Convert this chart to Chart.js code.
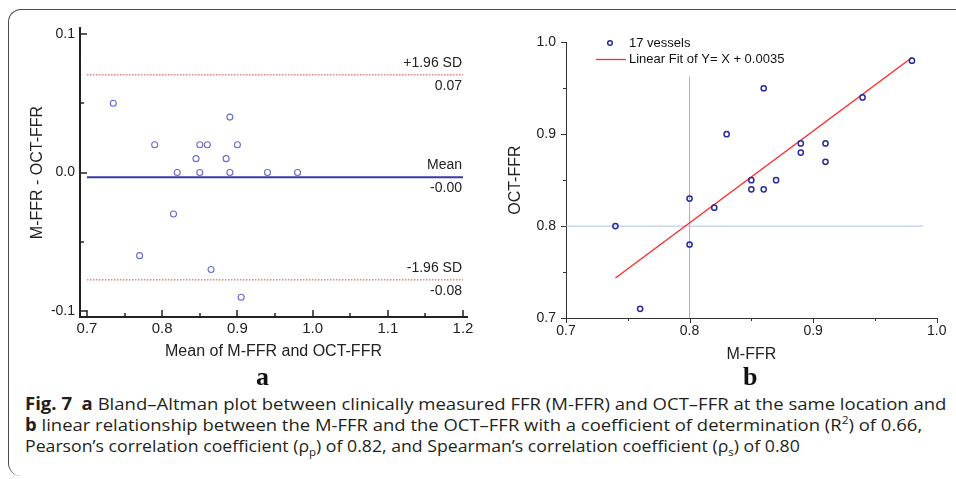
<!DOCTYPE html>
<html><head><meta charset="utf-8">
<script src="https://cdn.jsdelivr.net/npm/chart.js@4.4.1/dist/chart.umd.min.js"></script>
<style>
html,body{margin:0;padding:0;background:#fff;width:956px;height:479px;overflow:hidden;}
#frame{position:absolute;left:8px;top:9px;width:1000px;height:467px;border-top:1.5px solid #4a4a4a;border-left:1.5px solid #4a4a4a;border-radius:13px 0 0 13px;box-sizing:border-box;}
canvas{position:absolute;top:0;}
#cA{left:0}
#cB{left:480px}
.lab{position:absolute;font-family:"Liberation Serif","DejaVu Serif",serif;font-weight:bold;font-size:26px;line-height:26px;color:#111;}
.cap{position:absolute;left:25px;font-family:"Open Sans","Noto Sans",sans-serif;font-size:17px;line-height:20px;color:#231f20;white-space:nowrap;transform-origin:0 0;}
.cap b{font-weight:bold;}
.cap sub,.cap sup{font-size:11px;line-height:0;}
</style>
</head><body>
<div id="frame"></div>
<canvas id="cA" width="480" height="370"></canvas>
<canvas id="cB" width="476" height="370"></canvas>
<div class="lab" id="la" style="left:256px;top:364px">a</div>
<div class="lab" id="lb" style="left:743px;top:364px">b</div>
<div class="cap" data-w="922" style="top:394px"><b>Fig. 7</b>&nbsp; <b>a</b> Bland–Altman plot between clinically measured FFR (M-FFR) and OCT–FFR at the same location and</div>
<div class="cap" data-w="897" style="top:415px"><b>b</b> linear relationship between the M-FFR and the OCT–FFR with a coefficient of determination (R<sup>2</sup>) of 0.66,</div>
<div class="cap" data-w="775" style="top:436px">Pearson’s correlation coefficient (ρ<sub>p</sub>) of 0.82, and Spearman’s correlation coefficient (ρ<sub>s</sub>) of 0.80</div>
<script>
// ---------- Data ----------
// Panel a: Bland–Altman
const baMean = [0.770, 0.735, 0.815, 0.790, 0.820, 0.865, 0.850, 0.845, 0.850, 0.905, 0.860, 0.890, 0.885, 0.900, 0.890, 0.940, 0.980];
const baDiff = [-0.06, 0.05, -0.03, 0.02, 0.00, -0.07, 0.00, 0.01, 0.02, -0.09, 0.02, 0.00, 0.01, 0.02, 0.04, 0.00, 0.00];
const baLimitX = [0.7, 1.2];
const baLines = [0.0705, -0.0035, -0.0775];
const baLineNames = ['+1.96 SD', 'Mean', '-1.96 SD'];
const baLineValues = ['0.07', '-0.00', '-0.08'];
const aXTicks = [0.7, 0.8, 0.9, 1.0, 1.1, 1.2];
const aYTicks = [-0.1, 0.0, 0.1];
const aXTitle = 'Mean of M-FFR and OCT-FFR';
const aYTitle = 'M-FFR - OCT-FFR';

// Panel b: correlation
const mFFR   = [0.74, 0.76, 0.80, 0.80, 0.82, 0.83, 0.85, 0.85, 0.86, 0.86, 0.87, 0.89, 0.89, 0.91, 0.91, 0.94, 0.98];
const octFFR = [0.80, 0.71, 0.83, 0.78, 0.82, 0.90, 0.85, 0.84, 0.84, 0.95, 0.85, 0.89, 0.88, 0.89, 0.87, 0.94, 0.98];
const fitX = [0.74, 0.98];
const fitY = [0.7435, 0.9835];
const refVX = [0.8, 0.8],   refVY = [0.7, 0.963];
const refHX = [0.7, 0.989], refHY = [0.8, 0.8];
const bXTicks = [0.7, 0.8, 0.9, 1.0];
const bYTicks = [0.7, 0.8, 0.9, 1.0];
const bXTitle = 'M-FFR';
const bYTitle = 'OCT-FFR';
const legendLabels = ['17 vessels', 'Linear Fit of Y= X + 0.0035'];

// ---------- Helpers ----------
Chart.defaults.font.family = '"Liberation Sans", Arial, sans-serif';
Chart.defaults.color = '#222';
const pts = (xs, ys) => xs.map((x, i) => ({x, y: ys[i]}));
const mids = arr => arr.slice(1).map((v, i) => (v + arr[i]) / 2);

function tickMarkPlugin(cfg) {
  return {
    id: 'tickMarks',
    afterDraw(chart) {
      const ctx = chart.ctx, ca = chart.chartArea, sx = chart.scales.x, sy = chart.scales.y;
      ctx.save();
      ctx.strokeStyle = cfg.color; ctx.lineWidth = cfg.width;
      const d = cfg.inside ? 1 : -1;
      const ln = (x1, y1, x2, y2) => { ctx.beginPath(); ctx.moveTo(x1, y1); ctx.lineTo(x2, y2); ctx.stroke(); };
      const bx = ca.left, by = ca.bottom;
      const sxp = v => Math.round(sx.getPixelForValue(v)) + cfg.off;
      const syp = v => Math.round(sy.getPixelForValue(v)) + cfg.off;
      cfg.xMajor.forEach(v => ln(sxp(v), by, sxp(v), by - d * cfg.major));
      mids(cfg.xMajor).forEach(v => ln(sxp(v), by, sxp(v), by - d * cfg.minor));
      cfg.yMajor.forEach(v => ln(bx, syp(v), bx + d * cfg.major, syp(v)));
      mids(cfg.yMajor).forEach(v => ln(bx, syp(v), bx + d * cfg.minor, syp(v)));
      ctx.restore();
    }
  };
}

const baLabelPlugin = {
  id: 'baLabels',
  afterDatasetsDraw(chart) {
    const ctx = chart.ctx, sx = chart.scales.x, sy = chart.scales.y;
    ctx.save();
    ctx.font = '14px "Liberation Sans", Arial, sans-serif';
    ctx.fillStyle = '#222'; ctx.textAlign = 'right'; ctx.textBaseline = 'middle';
    const xr = sx.getPixelForValue(baLimitX[1]) - 1;
    baLines.forEach((v, i) => {
      const py = sy.getPixelForValue(v);
      ctx.fillText(baLineNames[i], xr, py - 12);
      ctx.fillText(baLineValues[i], xr, py + 11);
    });
    ctx.restore();
  }
};

const bLegendPlugin = {
  id: 'bLegend',
  afterDraw(chart) {
    const ctx = chart.ctx;
    ctx.save();
    ctx.font = '13px "Liberation Sans", Arial, sans-serif';
    ctx.fillStyle = '#111'; ctx.textAlign = 'left'; ctx.textBaseline = 'middle';
    ctx.strokeStyle = '#2a2a9c'; ctx.lineWidth = 1.5;
    ctx.beginPath(); ctx.arc(130, 43, 2.3, 0, Math.PI * 2); ctx.stroke();
    ctx.fillText(legendLabels[0], 149, 43);
    ctx.strokeStyle = '#ff2a2a'; ctx.lineWidth = 1.3;
    ctx.beginPath(); ctx.moveTo(116, 59.5); ctx.lineTo(146, 59.5); ctx.stroke();
    ctx.fillText(legendLabels[1], 149, 59);
    ctx.restore();
  }
};

// ---------- Panel a ----------
new Chart(document.getElementById('cA'), {
  type: 'scatter',
  data: { datasets: [
    { data: pts(baMean, baDiff), pointRadius: 3, pointHoverRadius: 3, pointBorderWidth: 1.1,
      pointBorderColor: '#6a6ad0', pointBackgroundColor: 'rgba(255,255,255,0)' },
    { data: pts(baLimitX, baLimitX.map(() => baLines[1])), showLine: true, pointRadius: 0,
      borderColor: '#3a3aa4', borderWidth: 2 },
    { data: pts(baLimitX, baLimitX.map(() => baLines[0])), showLine: true, pointRadius: 0,
      borderColor: '#d24a4a', borderWidth: 1, borderDash: [1.5, 1.5] },
    { data: pts(baLimitX, baLimitX.map(() => baLines[2])), showLine: true, pointRadius: 0,
      borderColor: '#d24a4a', borderWidth: 1, borderDash: [1.5, 1.5] }
  ]},
  options: {
    responsive: false, animation: false, events: [],
    layout: { padding: { left: 0, top: 28, right: 13, bottom: 0 } },
    plugins: { legend: { display: false }, tooltip: { enabled: false } },
    scales: {
      x: { type: 'linear', min: 0.6907, max: 1.2053,
        afterFit: s => { s.height = 53; },
        afterBuildTicks: s => { s.ticks = aXTicks.map(v => ({value: v})); },
        grid: { display: false, drawTicks: false },
        border: { display: true, color: '#222', width: 2 },
        ticks: { padding: 3, font: { size: 15 }, color: '#222', maxRotation: 0, autoSkip: false,
          callback: v => Number(v).toFixed(1) },
        title: { display: true, text: aXTitle, font: { size: 16 }, color: '#222', padding: { top: 0, bottom: 8.4 } } },
      y: { type: 'linear', min: -0.1043, max: 0.1043,
        afterFit: s => { s.width = 80; },
        afterBuildTicks: s => { s.ticks = aYTicks.map(v => ({value: v})); },
        grid: { display: false, drawTicks: false },
        border: { display: true, color: '#222', width: 2 },
        ticks: { padding: 5, font: { size: 14 }, color: '#222', autoSkip: false,
          callback: v => Number(v).toFixed(1) },
        title: { display: true, text: aYTitle, font: { size: 16 }, color: '#222', padding: { top: 28.4, bottom: 0 } } }
    }
  },
  plugins: [tickMarkPlugin({ inside: true, color: '#222', width: 1.5, off: 0, major: 7, minor: 4,
    xMajor: aXTicks, yMajor: aYTicks }), baLabelPlugin]
});

// ---------- Panel b ----------
new Chart(document.getElementById('cB'), {
  type: 'scatter',
  data: { datasets: [
    { data: pts(mFFR, octFFR), pointRadius: 2.6, pointHoverRadius: 2.6, pointBorderWidth: 1.5,
      pointBorderColor: '#2a2a9c', pointBackgroundColor: 'rgba(255,255,255,0)' },
    { data: pts(fitX, fitY), showLine: true, pointRadius: 0, borderColor: '#ff2a2a', borderWidth: 1.4 },
    { data: pts(refVX, refVY), showLine: true, pointRadius: 0, borderColor: '#8ab8e8', borderWidth: 1 },
    { data: pts(refHX, refHY), showLine: true, pointRadius: 0, borderColor: '#a7c7e9', borderWidth: 1 }
  ]},
  options: {
    responsive: false, animation: false, events: [],
    layout: { padding: { left: 0, top: 42.3, right: 19.3, bottom: 0 } },
    plugins: { legend: { display: false }, tooltip: { enabled: false } },
    scales: {
      x: { type: 'linear', min: 0.7, max: 1.0,
        afterFit: s => { s.height = 52; },
        afterBuildTicks: s => { s.ticks = bXTicks.map(v => ({value: v})); },
        grid: { display: false, drawTicks: false },
        border: { display: true, color: '#333', width: 1 },
        ticks: { padding: 5, font: { size: 14 }, color: '#222', maxRotation: 0, autoSkip: false,
          callback: v => Number(v).toFixed(1) },
        title: { display: true, text: bXTitle, font: { size: 16 }, color: '#222', padding: { top: 0, bottom: 5.4 } } },
      y: { type: 'linear', min: 0.7, max: 1.0,
        afterFit: s => { s.width = 86; },
        afterBuildTicks: s => { s.ticks = bYTicks.map(v => ({value: v})); },
        grid: { display: false, drawTicks: false },
        border: { display: true, color: '#333', width: 1 },
        ticks: { padding: 10, font: { size: 14 }, color: '#222', autoSkip: false,
          callback: v => Number(v).toFixed(1) },
        title: { display: true, text: bYTitle, font: { size: 16 }, color: '#222', padding: { top: 26.4, bottom: 0 } } }
    }
  },
  plugins: [tickMarkPlugin({ inside: false, color: '#333', width: 1, off: 0.5, major: 5, minor: 3,
    xMajor: bXTicks, yMajor: bYTicks }), bLegendPlugin]
});

// ---------- Caption width fitting ----------
function fitCaps() {
  document.querySelectorAll('.cap').forEach(el => {
    el.style.transform = 'none';
    const w = el.scrollWidth;
    el.style.transform = 'scaleX(' + (Number(el.dataset.w) / w) + ')';
  });
}
fitCaps();
if (document.fonts && document.fonts.ready) document.fonts.ready.then(fitCaps);
</script>
</body></html>
